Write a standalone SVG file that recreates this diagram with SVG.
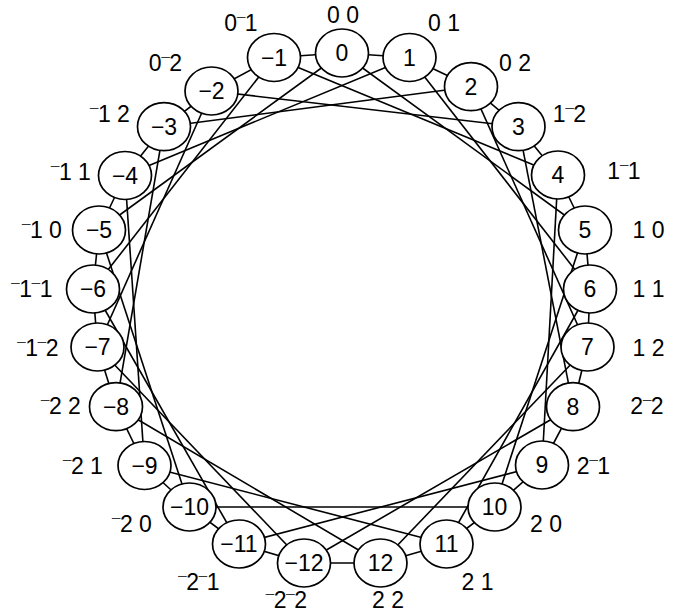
<svg xmlns="http://www.w3.org/2000/svg" width="679" height="615" viewBox="0 0 679 615">
<style>
.node ellipse{fill:#fff;stroke:#000;stroke-width:1.7}
text{font-family:"Liberation Sans",Arial,sans-serif;text-anchor:middle;fill:#000}
.node text{font-size:23px}
.lbl{font-size:23px}
.b{font-size:14px;stroke:#000;stroke-width:0.4}
#edges line{stroke:#000;stroke-width:1.6}
</style>
<rect width="679" height="615" fill="#fff"/>
<g id="edges">
<line x1="304" y1="563" x2="239" y2="544"/>
<line x1="239" y1="544" x2="189.5" y2="507"/>
<line x1="189.5" y1="507" x2="144.5" y2="465.5"/>
<line x1="144.5" y1="465.5" x2="116" y2="406.7"/>
<line x1="116" y1="406.7" x2="97.5" y2="347"/>
<line x1="97.5" y1="347" x2="93" y2="289"/>
<line x1="93" y1="289" x2="99" y2="230"/>
<line x1="99" y1="230" x2="125" y2="175.5"/>
<line x1="125" y1="175.5" x2="164" y2="126.7"/>
<line x1="164" y1="126.7" x2="211.5" y2="91"/>
<line x1="211.5" y1="91" x2="274" y2="57.5"/>
<line x1="274" y1="57.5" x2="342" y2="53"/>
<line x1="342" y1="53" x2="409.5" y2="57.5"/>
<line x1="409.5" y1="57.5" x2="471" y2="86.7"/>
<line x1="471" y1="86.7" x2="518.5" y2="126.7"/>
<line x1="518.5" y1="126.7" x2="558" y2="175"/>
<line x1="558" y1="175" x2="585" y2="230"/>
<line x1="585" y1="230" x2="590" y2="289"/>
<line x1="590" y1="289" x2="587.5" y2="347"/>
<line x1="587.5" y1="347" x2="573" y2="406.7"/>
<line x1="573" y1="406.7" x2="542" y2="465"/>
<line x1="542" y1="465" x2="494.5" y2="507"/>
<line x1="494.5" y1="507" x2="446.5" y2="544"/>
<line x1="446.5" y1="544" x2="380.5" y2="563"/>
<line x1="380.5" y1="563" x2="304" y2="563"/>
<line x1="304" y1="563" x2="97.5" y2="347"/>
<line x1="239" y1="544" x2="93" y2="289"/>
<line x1="189.5" y1="507" x2="99" y2="230"/>
<line x1="144.5" y1="465.5" x2="125" y2="175.5"/>
<line x1="116" y1="406.7" x2="164" y2="126.7"/>
<line x1="97.5" y1="347" x2="211.5" y2="91"/>
<line x1="93" y1="289" x2="274" y2="57.5"/>
<line x1="99" y1="230" x2="342" y2="53"/>
<line x1="125" y1="175.5" x2="409.5" y2="57.5"/>
<line x1="164" y1="126.7" x2="471" y2="86.7"/>
<line x1="211.5" y1="91" x2="518.5" y2="126.7"/>
<line x1="274" y1="57.5" x2="558" y2="175"/>
<line x1="342" y1="53" x2="585" y2="230"/>
<line x1="409.5" y1="57.5" x2="590" y2="289"/>
<line x1="471" y1="86.7" x2="587.5" y2="347"/>
<line x1="518.5" y1="126.7" x2="573" y2="406.7"/>
<line x1="558" y1="175" x2="542" y2="465"/>
<line x1="585" y1="230" x2="494.5" y2="507"/>
<line x1="590" y1="289" x2="446.5" y2="544"/>
<line x1="587.5" y1="347" x2="380.5" y2="563"/>
<line x1="573" y1="406.7" x2="304" y2="563"/>
<line x1="542" y1="465" x2="239" y2="544"/>
<line x1="494.5" y1="507" x2="189.5" y2="507"/>
<line x1="446.5" y1="544" x2="144.5" y2="465.5"/>
<line x1="380.5" y1="563" x2="116" y2="406.7"/>
</g>
<g id="n0" class="node"><ellipse cx="342" cy="53" rx="26.5" ry="24"/><text x="342" y="61">0</text></g>
<g id="n1" class="node"><ellipse cx="409.5" cy="57.5" rx="26.5" ry="24"/><text x="409.5" y="65.5">1</text></g>
<g id="n2" class="node"><ellipse cx="471" cy="86.7" rx="26.5" ry="24"/><text x="471" y="94.7">2</text></g>
<g id="n3" class="node"><ellipse cx="518.5" cy="126.7" rx="26.5" ry="24"/><text x="518.5" y="134.7">3</text></g>
<g id="n4" class="node"><ellipse cx="558" cy="175" rx="26.5" ry="24"/><text x="558" y="183">4</text></g>
<g id="n5" class="node"><ellipse cx="585" cy="230" rx="26.5" ry="24"/><text x="585" y="238">5</text></g>
<g id="n6" class="node"><ellipse cx="590" cy="289" rx="26.5" ry="24"/><text x="590" y="297">6</text></g>
<g id="n7" class="node"><ellipse cx="587.5" cy="347" rx="26.5" ry="24"/><text x="587.5" y="355">7</text></g>
<g id="n8" class="node"><ellipse cx="573" cy="406.7" rx="26.5" ry="24"/><text x="573" y="414.7">8</text></g>
<g id="n9" class="node"><ellipse cx="542" cy="465" rx="26.5" ry="24"/><text x="542" y="473">9</text></g>
<g id="n10" class="node"><ellipse cx="494.5" cy="507" rx="26.5" ry="24"/><text x="494.5" y="515">10</text></g>
<g id="n11" class="node"><ellipse cx="446.5" cy="544" rx="26.5" ry="24"/><text x="446.5" y="552">11</text></g>
<g id="n12" class="node"><ellipse cx="380.5" cy="563" rx="26.5" ry="24"/><text x="380.5" y="571">12</text></g>
<g id="nm12" class="node"><ellipse cx="304" cy="563" rx="26.5" ry="24"/><text x="304" y="571">−12</text></g>
<g id="nm11" class="node"><ellipse cx="239" cy="544" rx="26.5" ry="24"/><text x="239" y="552">−11</text></g>
<g id="nm10" class="node"><ellipse cx="189.5" cy="507" rx="26.5" ry="24"/><text x="189.5" y="515">−10</text></g>
<g id="nm9" class="node"><ellipse cx="144.5" cy="465.5" rx="26.5" ry="24"/><text x="144.5" y="473.5">−9</text></g>
<g id="nm8" class="node"><ellipse cx="116" cy="406.7" rx="26.5" ry="24"/><text x="116" y="414.7">−8</text></g>
<g id="nm7" class="node"><ellipse cx="97.5" cy="347" rx="26.5" ry="24"/><text x="97.5" y="355">−7</text></g>
<g id="nm6" class="node"><ellipse cx="93" cy="289" rx="26.5" ry="24"/><text x="93" y="297">−6</text></g>
<g id="nm5" class="node"><ellipse cx="99" cy="230" rx="26.5" ry="24"/><text x="99" y="238">−5</text></g>
<g id="nm4" class="node"><ellipse cx="125" cy="175.5" rx="26.5" ry="24"/><text x="125" y="183.5">−4</text></g>
<g id="nm3" class="node"><ellipse cx="164" cy="126.7" rx="26.5" ry="24"/><text x="164" y="134.7">−3</text></g>
<g id="nm2" class="node"><ellipse cx="211.5" cy="91" rx="26.5" ry="24"/><text x="211.5" y="99">−2</text></g>
<g id="nm1" class="node"><ellipse cx="274" cy="57.5" rx="26.5" ry="24"/><text x="274" y="65.5">−1</text></g>
<g id="labels">
<text class="lbl" x="343" y="23">0 0</text>
<text class="lbl" x="444" y="31">0 1</text>
<text class="lbl" x="515" y="71">0 2</text>
<text class="lbl" x="569.5" y="122">1<tspan class="b" dy="-3">¯</tspan><tspan dy="3">2</tspan></text>
<text class="lbl" x="624" y="179">1<tspan class="b" dy="-3">¯</tspan><tspan dy="3">1</tspan></text>
<text class="lbl" x="648.5" y="238">1 0</text>
<text class="lbl" x="648.5" y="297">1 1</text>
<text class="lbl" x="648.5" y="356">1 2</text>
<text class="lbl" x="647" y="414">2<tspan class="b" dy="-3">¯</tspan><tspan dy="3">2</tspan></text>
<text class="lbl" x="593.5" y="474">2<tspan class="b" dy="-3">¯</tspan><tspan dy="3">1</tspan></text>
<text class="lbl" x="546" y="532">2 0</text>
<text class="lbl" x="477.5" y="590">2 1</text>
<text class="lbl" x="388" y="608">2 2</text>
<text class="lbl" x="286.5" y="608"><tspan class="b" dy="-3">¯</tspan><tspan dy="3">2</tspan><tspan class="b" dy="-3">¯</tspan><tspan dy="3">2</tspan></text>
<text class="lbl" x="199" y="590"><tspan class="b" dy="-3">¯</tspan><tspan dy="3">2</tspan><tspan class="b" dy="-3">¯</tspan><tspan dy="3">1</tspan></text>
<text class="lbl" x="132" y="532"><tspan class="b" dy="-3">¯</tspan><tspan dy="3">2 0</tspan></text>
<text class="lbl" x="83" y="474"><tspan class="b" dy="-3">¯</tspan><tspan dy="3">2 1</tspan></text>
<text class="lbl" x="61" y="414"><tspan class="b" dy="-3">¯</tspan><tspan dy="3">2 2</tspan></text>
<text class="lbl" x="38" y="356"><tspan class="b" dy="-3">¯</tspan><tspan dy="3">1</tspan><tspan class="b" dy="-3">¯</tspan><tspan dy="3">2</tspan></text>
<text class="lbl" x="32" y="297"><tspan class="b" dy="-3">¯</tspan><tspan dy="3">1</tspan><tspan class="b" dy="-3">¯</tspan><tspan dy="3">1</tspan></text>
<text class="lbl" x="42" y="238"><tspan class="b" dy="-3">¯</tspan><tspan dy="3">1 0</tspan></text>
<text class="lbl" x="71" y="180"><tspan class="b" dy="-3">¯</tspan><tspan dy="3">1 1</tspan></text>
<text class="lbl" x="110" y="122"><tspan class="b" dy="-3">¯</tspan><tspan dy="3">1 2</tspan></text>
<text class="lbl" x="165.5" y="71">0<tspan class="b" dy="-3">¯</tspan><tspan dy="3">2</tspan></text>
<text class="lbl" x="241" y="31">0<tspan class="b" dy="-3">¯</tspan><tspan dy="3">1</tspan></text>
</g>
</svg>
